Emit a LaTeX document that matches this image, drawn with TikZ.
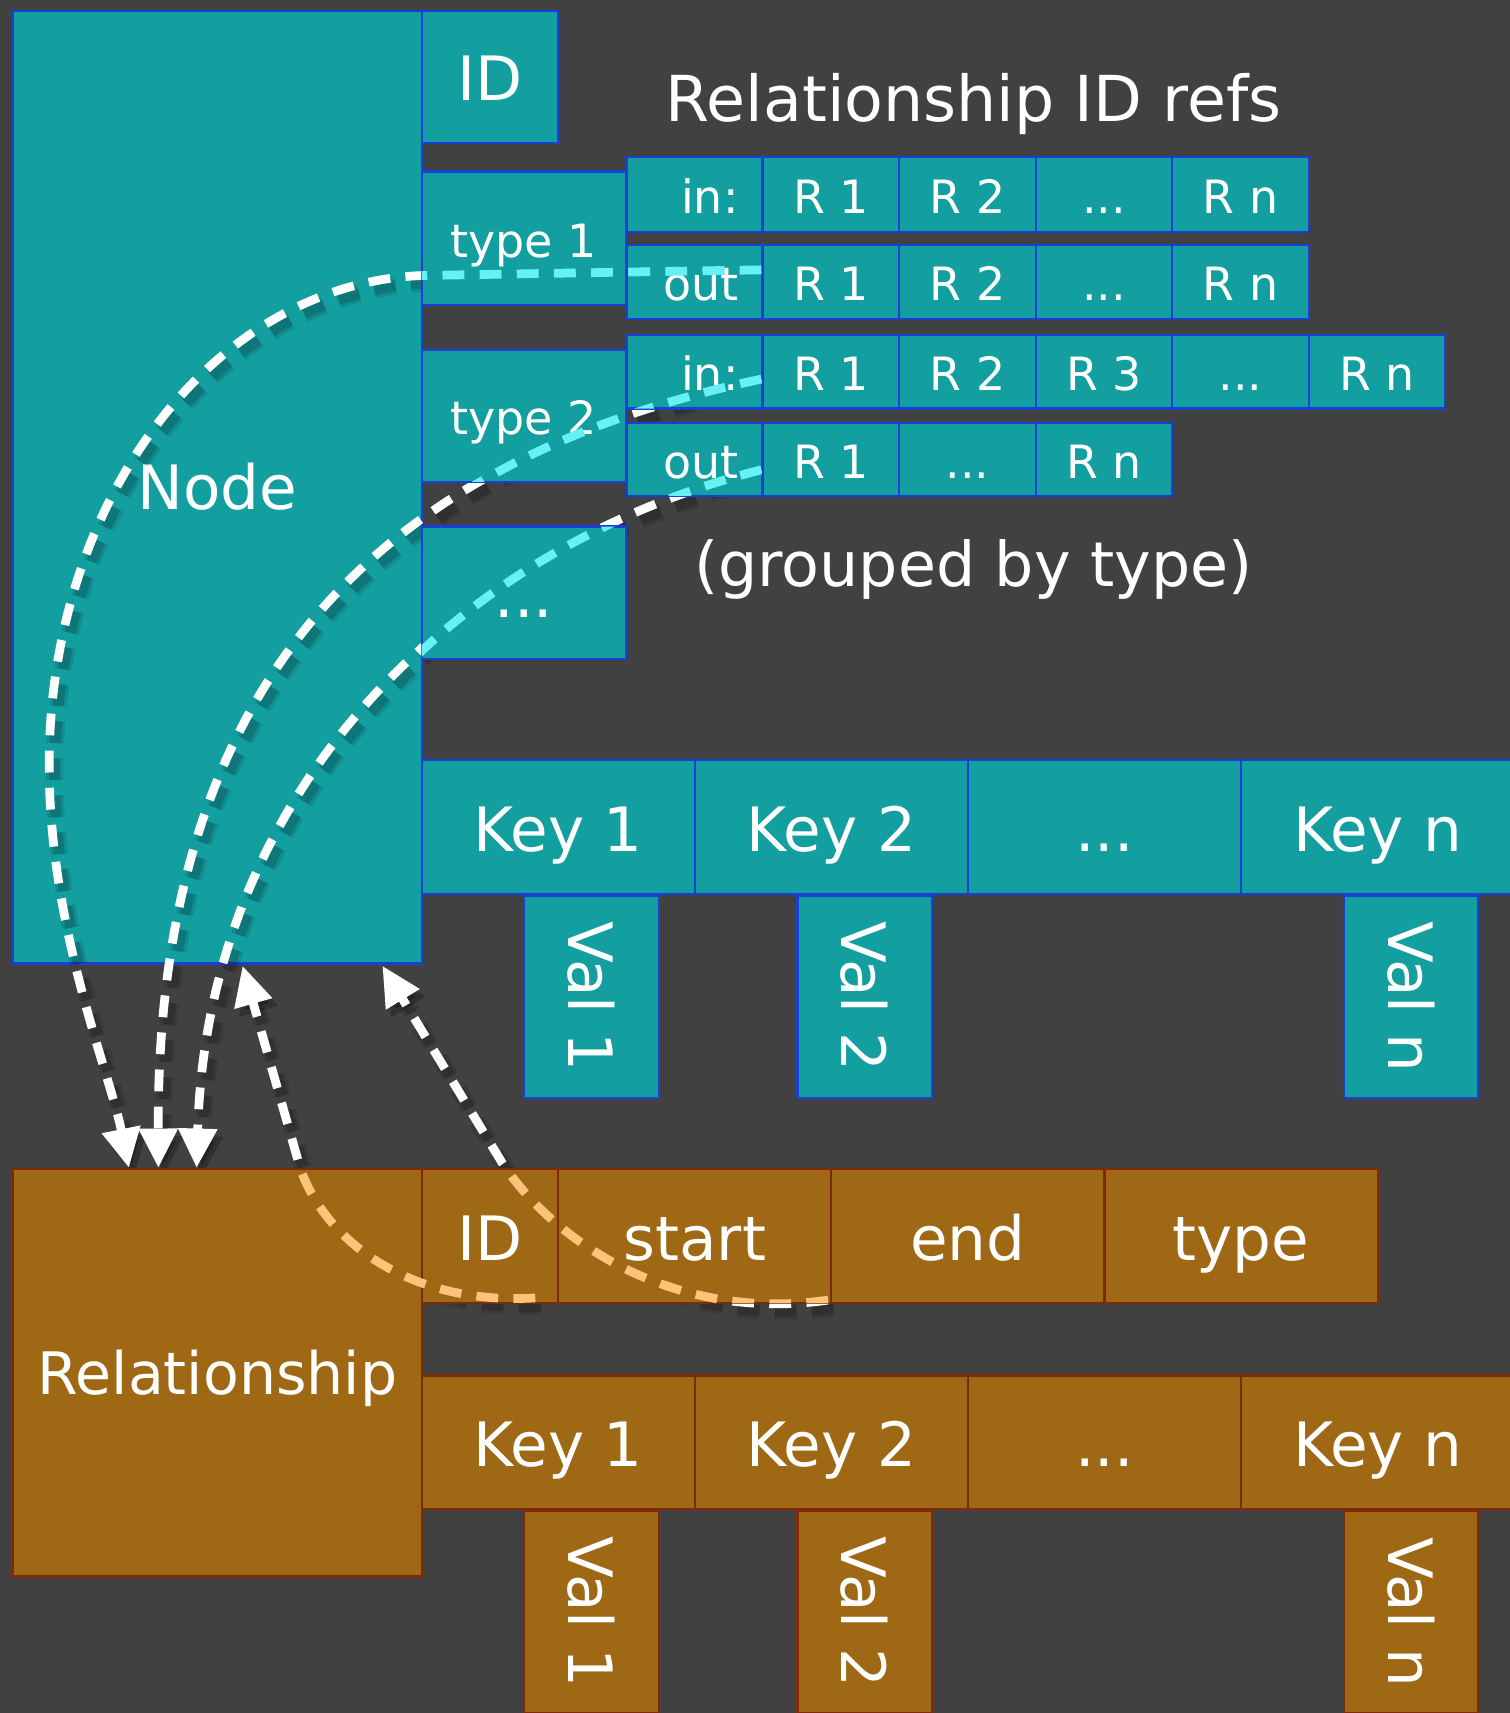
\documentclass[tikz,border=0pt]{standalone}
\usepackage{graphicx}
\usepackage{fontspec}
\setmainfont{DejaVu Sans}
\usetikzlibrary{arrows.meta}
\definecolor{bgc}{HTML}{414141}
\definecolor{tealfill}{HTML}{139EA0}
\definecolor{tealline}{HTML}{1A3FD6}
\definecolor{brownfill}{HTML}{9E6815}
\definecolor{brownline}{HTML}{7E2A0A}
\definecolor{cyandash}{HTML}{66F2F5}
\definecolor{orangedash}{HTML}{FFC27A}
\newcommand{\cell}[7]{\node[#6, minimum width={(#4-#2)*0.5pt}, minimum height={(#5-#3)*0.5pt}] (#1) at ({(#2+#4)/2},{(#3+#5)/2}) {#7};}
\newcommand{\rl}[1]{\makebox[62pt][r]{#1\hspace{11pt}}}
\newcommand{\vt}[1]{\rotatebox{-90}{#1}}
\begin{document}
\begin{tikzpicture}[x=0.5pt,y=-0.5pt,
  cellbase/.style={rectangle, inner sep=0pt, outer sep=0pt, line width=1pt, text=white, font=\fontsize{28}{30}\selectfont},
  ncell/.style={cellbase, fill=tealfill, draw=tealline},
  rcell/.style={cellbase, fill=brownfill, draw=brownline},
  fixh/.style={text height=22.5pt, text depth=0pt},
  sm/.style={font=\fontsize{21}{24}\selectfont, text height=17.3pt, text depth=0pt},
  txt/.style={text=white, inner sep=0pt, font=\fontsize{29}{31}\selectfont},
  refline/.style={line width=4pt, dash pattern=on 10pt off 7pt, line cap=butt},
  refshadowA/.style={refline, draw=black, opacity=0.10, line width=8pt},
  refshadowB/.style={refline, draw=black, opacity=0.16, line width=5pt},
  tipped/.style={-{Triangle[length=18pt,width=17pt]}}
]
\useasboundingbox (0,0) rectangle (1382,1568);
\fill[bgc] (0,0) rectangle (1382,1568);

% main node box (below the reference curves)
\cell{node}{12}{10}{386}{882}{ncell,text height=20.4pt,text depth=0pt}{Node}

% end points of the reference curves
\coordinate (aS) at (697,247);
\coordinate (aT) at (118,1069);
\coordinate (bS) at (697,347);
\coordinate (bT) at (145,1069);
\coordinate (cS) at (697,430);
\coordinate (cT) at (180,1069);
\coordinate (dS) at (490,1188);
\coordinate (dT) at (222,884);
\coordinate (eS) at (758,1190);
\coordinate (eT) at (350,884);

\def\curveA{(aS) -- (397,252) .. controls (203,252) and (45,451) .. (45,700) .. controls (45,850) and (100,980) .. (aT)}
\def\curveB{(bS) .. controls (350,420) and (143,620) .. (bT)}
\def\curveC{(cS) .. controls (420,500) and (190,720) .. (cT)}
\def\curveD{(dS) .. controls (380,1195) and (300,1140) .. (275,1070) -- (dT)}
\def\curveE{(eS) .. controls (620,1210) and (510,1140) .. (460,1065) -- (eT)}

% soft shadows
\begin{scope}[transform canvas={shift={(2.5pt,-3.5pt)}}]
  \draw[refshadowA, tipped] \curveA;
  \draw[refshadowA, tipped] \curveB;
  \draw[refshadowA, tipped] \curveC;
  \draw[refshadowA, tipped] \curveD;
  \draw[refshadowA, tipped] \curveE;
  \draw[refshadowB, tipped] \curveA;
  \draw[refshadowB, tipped] \curveB;
  \draw[refshadowB, tipped] \curveC;
  \draw[refshadowB, tipped] \curveD;
  \draw[refshadowB, tipped] \curveE;
\end{scope}

% white curves
\draw[refline, white, tipped] \curveA;
\draw[refline, white, tipped] \curveB;
\draw[refline, white, tipped] \curveC;
\draw[refline, white, tipped] \curveD;
\draw[refline, white, tipped] \curveE;

% node fields
\cell{nid}{386}{10}{511}{131}{ncell,text height=21.4pt,text depth=0pt}{ID}
\cell{type1}{386}{157}{573}{279}{ncell,sm}{type 1}
\cell{i1}{574}{144}{698}{212}{ncell,sm}{\rl{in:}}
\cell{i1a}{698}{144}{823}{212}{ncell,sm}{R 1}
\cell{i1b}{823}{144}{948}{212}{ncell,sm}{R 2}
\cell{i1c}{948}{144}{1073}{212}{ncell,sm}{...}
\cell{i1d}{1073}{144}{1198}{212}{ncell,sm}{R n}
\cell{o1}{574}{224}{698}{292}{ncell,sm}{\rl{out}}
\cell{o1a}{698}{224}{823}{292}{ncell,sm}{R 1}
\cell{o1b}{823}{224}{948}{292}{ncell,sm}{R 2}
\cell{o1c}{948}{224}{1073}{292}{ncell,sm}{...}
\cell{o1d}{1073}{224}{1198}{292}{ncell,sm}{R n}
\cell{type2}{386}{320}{573}{441}{ncell,sm}{type 2}
\cell{i2}{574}{307}{698}{374}{ncell,sm}{\rl{in:}}
\cell{i2a}{698}{307}{823}{374}{ncell,sm}{R 1}
\cell{i2b}{823}{307}{948}{374}{ncell,sm}{R 2}
\cell{i2c}{948}{307}{1073}{374}{ncell,sm}{R 3}
\cell{i2d}{1073}{307}{1198}{374}{ncell,sm}{...}
\cell{i2e}{1198}{307}{1323}{374}{ncell,sm}{R n}
\cell{o2}{574}{387}{698}{454}{ncell,sm}{\rl{out}}
\cell{o2a}{698}{387}{823}{454}{ncell,sm}{R 1}
\cell{o2b}{823}{387}{948}{454}{ncell,sm}{...}
\cell{o2c}{948}{387}{1073}{454}{ncell,sm}{R n}
\cell{ndots}{386}{482}{573}{603}{ncell,fixh}{...}
\cell{nk1}{386}{696}{636}{818}{ncell,fixh}{Key 1}
\cell{nk2}{636}{696}{886}{818}{ncell,fixh}{Key 2}
\cell{nk3}{886}{696}{1136}{818}{ncell,fixh}{...}
\cell{nk4}{1136}{696}{1386}{818}{ncell,fixh}{Key n}
\cell{nv1}{480}{820}{603}{1005}{ncell}{\vt{Val 1}}
\cell{nv2}{730}{820}{853}{1005}{ncell}{\vt{Val 2}}
\cell{nv4}{1230}{820}{1353}{1005}{ncell}{\vt{Val n}}

% relationship fields
\cell{rel}{12}{1070}{386}{1443}{rcell,font=\fontsize{26.8}{29}\selectfont,text height=19.6pt,text depth=0pt}{Relationship}
\cell{rid}{386}{1070}{511}{1193}{rcell,fixh}{ID}
\cell{rstart}{511}{1070}{761}{1193}{rcell,fixh}{start}
\cell{rend}{761}{1070}{1011}{1193}{rcell,fixh}{end}
\cell{rtype}{1011}{1070}{1261}{1193}{rcell,fixh}{type}
\cell{rk1}{386}{1259}{636}{1381}{rcell,fixh}{Key 1}
\cell{rk2}{636}{1259}{886}{1381}{rcell,fixh}{Key 2}
\cell{rk3}{886}{1259}{1136}{1381}{rcell,fixh}{...}
\cell{rk4}{1136}{1259}{1386}{1381}{rcell,fixh}{Key n}
\cell{rv1}{480}{1383}{603}{1568}{rcell}{\vt{Val 1}}
\cell{rv2}{730}{1383}{853}{1568}{rcell}{\vt{Val 2}}
\cell{rv4}{1230}{1383}{1353}{1568}{rcell}{\vt{Val n}}

% curves seen through the fields
\begin{scope}
  \clip (type1.north west) rectangle (type1.south east)
        (o1.north west) rectangle (o1.south east)
        (i2.north west) rectangle (i2.south east)
        (type2.north west) rectangle (type2.south east)
        (o2.north west) rectangle (o2.south east)
        (ndots.north west) rectangle (ndots.south east);
  \draw[refline, cyandash] \curveA;
  \draw[refline, cyandash] \curveB;
  \draw[refline, cyandash] \curveC;
\end{scope}
\begin{scope}
  \clip (rel.north west) rectangle (rel.south east)
        (rid.north west) rectangle (rid.south east)
        (rstart.north west) rectangle (rstart.south east)
        (rend.north west) rectangle (rend.south east);
  \draw[refline, orangedash] \curveD;
  \draw[refline, orangedash] \curveE;
\end{scope}

% free texts
\node[txt] (title) at (891,95) {Relationship ID refs};
\node[txt, font=\fontsize{28.3}{30}\selectfont] (grouped) at (891,521) {(grouped by type)};
\end{tikzpicture}
\end{document}
